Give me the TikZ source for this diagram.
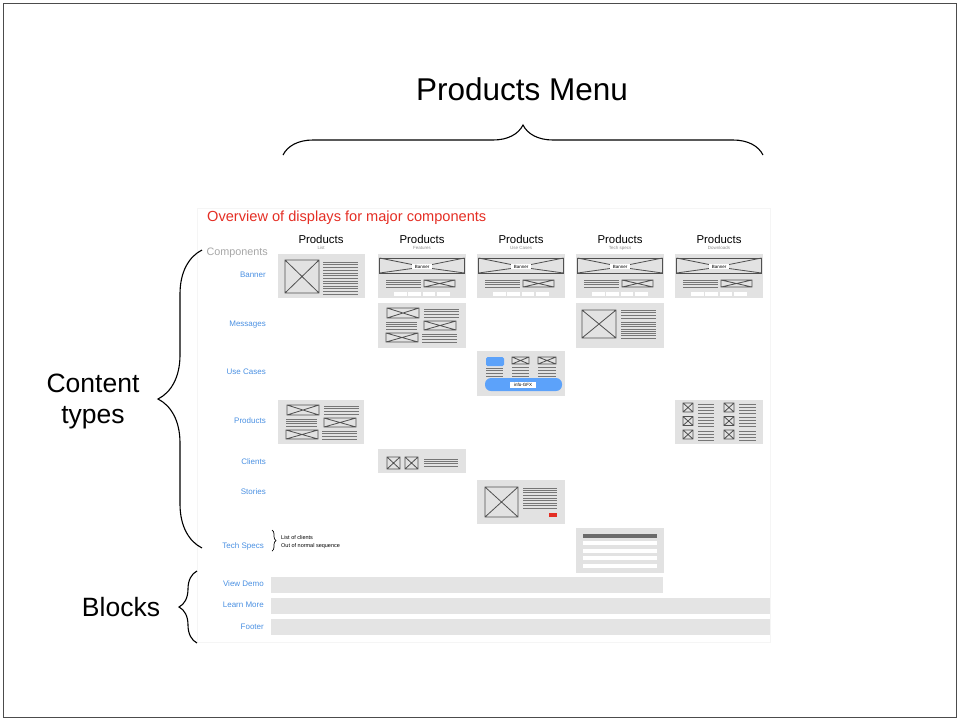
\documentclass[tikz,border=0pt]{standalone}
\usepackage{fontspec}
\setmainfont{Liberation Sans}
\usetikzlibrary{decorations.pathreplacing}

\definecolor{boxgray}{RGB}{226,226,226}
\definecolor{bargray}{RGB}{228,228,228}
\definecolor{skgray}{RGB}{80,80,80}
\definecolor{lngray}{RGB}{118,118,118}
\definecolor{lblblue}{RGB}{74,144,226}
\definecolor{uiblue}{RGB}{92,162,250}
\definecolor{ttlred}{RGB}{228,46,36}
\definecolor{paneledge}{RGB}{245,245,245}

\tikzset{
  wfline/.style={draw=skgray, line width=0.8pt},
  wftext/.style={draw=lngray, line width=0.55pt},
  rowlbl/.style={anchor=base east, text=lblblue, inner sep=0, font=\fontsize{8}{9}\selectfont},
  colhead/.style={anchor=base, inner sep=0, font=\fontsize{11.4}{12}\selectfont},
  colsub/.style={anchor=base, inner sep=0, text=black!45, font=\fontsize{4.5}{5}\selectfont},
  tinytag/.style={fill=white, inner sep=0, font=\fontsize{4.5}{5}\selectfont},
  bigbrace/.style={decorate, decoration={brace, amplitude=#1}, line width=1.1pt},
}

% crossed image placeholder
\newcommand\wfX[4]{\draw[wfline] (#1,#2) rectangle (#3,#4) (#1,#2) -- (#3,#4) (#1,#4) -- (#3,#2);}
% block of text lines: x1, y1, x2, y2, count
\newcommand\wfLines[5]{\foreach \k in {1,...,#5}{\draw[wftext] (#1,{#2+(\k-1)*(#4-#2)/(#5-1)}) -- (#3,{#2+(\k-1)*(#4-#2)/(#5-1)});}}
% banner thumbnail
\newcommand\wfBanner[1]{%
  \fill[boxgray] (0,0) rectangle (88,44);
  \draw[wfline] (1.5,4) rectangle (86.5,19);
  \draw[wfline] (1.5,4) -- (34,10.5) (1.5,19) -- (34,14.5) (86.5,4) -- (54,10.5) (86.5,19) -- (54,14.5);
  \node[tinytag, minimum width=20, minimum height=5] (#1) at (44,12.5) {Banner};
  \wfLines{8}{26}{43}{33}{4}
  \wfX{46}{26}{77}{33}
  \foreach \i in {0,...,3}{\fill[white] ({16+\i*14.4},38) rectangle ({28.5+\i*14.4},42);}
}
% three alternating rows of images and text
\newcommand\wfRows{%
  \wfX{9}{5}{41}{15}
  \wfLines{46}{6}{81}{14}{4}
  \wfLines{8}{19}{39}{26}{4}
  \wfX{46}{18}{78}{27}
  \wfX{8}{30}{40}{39}
  \wfLines{44}{31}{79}{39}{4}
}

\begin{document}
\begin{tikzpicture}[x=1pt,y=-1pt]
\useasboundingbox (0,0) rectangle (960,721);

% outer frame
\draw[black!70, line width=1.2pt] (3.5,3.5) rectangle (956.5,717.5);

% faint sheet behind the overview
\draw[paneledge, line width=0.6pt] (197,208) rectangle (770,642);

% heading and braces
\node[anchor=base, inner sep=0, font=\fontsize{31.5}{36}\selectfont] (menu) at (522,100) {Products Menu};
\draw[bigbrace=30] (283,155) -- (763,155);
\node[align=center, inner sep=0, font=\fontsize{26.5}{31}\selectfont] (ctypes) at (93,401) {Content\\types};
\draw[bigbrace=44] (202,548) -- (202,250);
\node[anchor=base, inner sep=0, font=\fontsize{26.5}{31}\selectfont] (blocks) at (121,616) {Blocks};
\draw[bigbrace=18] (197,643) -- (197,571);

% overview title
\node[anchor=base west, inner sep=0, text=ttlred, font=\fontsize{14.6}{16}\selectfont] (title) at (207,221.5) {Overview of displays for major components};

% column headings
\node[colhead] (h1) at (321,243) {Products};
\node[colhead] (h2) at (422,243) {Products};
\node[colhead] (h3) at (521,243) {Products};
\node[colhead] (h4) at (620,243) {Products};
\node[colhead] (h5) at (719,243) {Products};
\node[colsub] (s1) at (321,249.5) {List};
\node[colsub] (s2) at (422,249.5) {Features};
\node[colsub] (s3) at (521,249.5) {Use Cases};
\node[colsub] (s4) at (620,249.5) {Tech specs};
\node[colsub] (s5) at (719,249.5) {Downloads};

% row labels
\node[anchor=base east, inner sep=0, text=black!35, font=\fontsize{10.8}{12}\selectfont] (comp) at (268,255) {Components};
\node[rowlbl] (rBanner) at (266,277) {Banner};
\node[rowlbl] (rMsg) at (266,326) {Messages};
\node[rowlbl] (rUse) at (266,374) {Use Cases};
\node[rowlbl] (rProd) at (266,423) {Products};
\node[rowlbl] (rCli) at (266,464) {Clients};
\node[rowlbl] (rSto) at (266,494) {Stories};
\node[rowlbl] (rTech) at (264,548) {Tech Specs};
\node[rowlbl] (rDemo) at (264,586) {View Demo};
\node[rowlbl] (rLearn) at (264,607) {Learn More};
\node[rowlbl] (rFoot) at (264,629) {Footer};

% note beside Tech Specs
\draw[decorate, decoration={brace, amplitude=4}, line width=0.7pt] (272,530) -- (272,551);
\node[anchor=base west, inner sep=0, font=\fontsize{5.5}{6}\selectfont] (note1) at (281,539) {List of clients};
\node[anchor=base west, inner sep=0, font=\fontsize{5.5}{6}\selectfont] (note2) at (281,547) {Out of normal sequence};

% ---- Banner row ----
\begin{scope}[shift={(278,254)}]
  \fill[boxgray] (0,0) rectangle (87,44);
  \wfX{7}{6}{41}{39}
  \wfLines{45}{8}{80}{16}{4}
  \wfLines{45}{19}{80}{40}{9}
\end{scope}
\begin{scope}[shift={(378,254)}]\wfBanner{bn2}\end{scope}
\begin{scope}[shift={(477,254)}]\wfBanner{bn3}\end{scope}
\begin{scope}[shift={(576,254)}]\wfBanner{bn4}\end{scope}
\begin{scope}[shift={(675,254)}]\wfBanner{bn5}\end{scope}

% ---- Messages row ----
\begin{scope}[shift={(378,303)}]
  \fill[boxgray] (0,0) rectangle (88,45);
  \wfRows
\end{scope}
\begin{scope}[shift={(576,303)}]
  \fill[boxgray] (0,0) rectangle (88,45);
  \wfX{6}{7}{40}{35}
  \wfLines{45}{7}{80}{15}{4}
  \wfLines{45}{19}{80}{35}{8}
\end{scope}

% ---- Use Cases row ----
\begin{scope}[shift={(477,351)}]
  \fill[boxgray] (0,0) rectangle (88,45);
  \fill[uiblue, rounded corners=1.5pt] (9,6) rectangle (27,15);
  \wfX{35}{6}{52}{13}
  \wfX{61}{6}{79}{13}
  \wfLines{9}{17}{26}{25}{4}
  \wfLines{35}{16}{52}{25}{4}
  \wfLines{61}{16}{79}{25}{4}
  \fill[uiblue, rounded corners=6pt] (8,27) rectangle (85,40);
  \node[tinytag, minimum width=26, minimum height=6.5] (gfx) at (46,34) {info-GFX};
\end{scope}

% ---- Products row ----
\begin{scope}[shift={(278,400)}]
  \fill[boxgray] (0,0) rectangle (86,44);
  \wfRows
\end{scope}
\begin{scope}[shift={(675,400)}]
  \fill[boxgray] (0,0) rectangle (88,44);
  \foreach \r in {3,16.5,30}{
    \wfX{8}{\r}{18}{\r+9}
    \wfLines{23}{\r+1}{39}{\r+8}{4}
    \wfX{49}{\r}{59}{\r+9}
    \wfLines{64}{\r+1}{81}{\r+8}{4}
  }
\end{scope}

% ---- Clients row ----
\begin{scope}[shift={(378,449)}]
  \fill[boxgray] (0,0) rectangle (88,24);
  \wfX{9}{8}{22}{20}
  \wfX{27}{8}{40}{20}
  \wfLines{46}{10}{80}{17}{4}
\end{scope}

% ---- Stories row ----
\begin{scope}[shift={(477,480)}]
  \fill[boxgray] (0,0) rectangle (88,44);
  \wfX{8}{7}{41}{37}
  \wfLines{46}{8}{80}{15}{4}
  \wfLines{46}{18}{80}{28}{5}
  \fill[ttlred] (72,33) rectangle (80,37);
\end{scope}

% ---- Tech Specs row ----
\begin{scope}[shift={(576,528)}]
  \fill[boxgray] (0,0) rectangle (88,45);
  \fill[black!58] (7,6) rectangle (81,10);
  \foreach \r in {13,20.5,28,35.5}{\fill[white] (7,\r) rectangle (81,\r+4);}
\end{scope}

% ---- blocks ----
\fill[bargray] (271,577) rectangle (663,593);
\fill[bargray] (271,598) rectangle (770,614);
\fill[bargray] (271,619) rectangle (770,635);
\end{tikzpicture}
\end{document}
